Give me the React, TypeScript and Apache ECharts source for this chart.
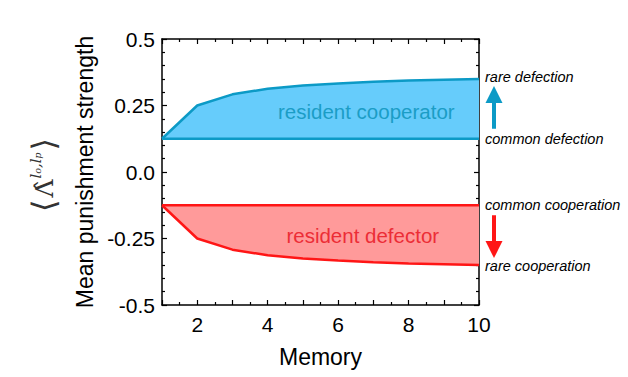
import React, { useEffect, useRef } from "react";
import * as echarts from "echarts";

const memory = [1, 2, 3, 4, 5, 6, 7, 8, 9, 10];
const cooperatorBase = [0.125, 0.125, 0.125, 0.125, 0.125, 0.125, 0.125, 0.125, 0.125, 0.125];
const cooperatorTop = [0.125, 0.25, 0.292, 0.313, 0.325, 0.333, 0.339, 0.344, 0.347, 0.35];
const defectorBase = [-0.125, -0.125, -0.125, -0.125, -0.125, -0.125, -0.125, -0.125, -0.125, -0.125];
const defectorBottom = [-0.125, -0.25, -0.292, -0.313, -0.325, -0.333, -0.339, -0.344, -0.347, -0.35];
const yTicks = [-0.5, -0.25, 0, 0.25, 0.5];
const yTickLabels = ["-0.5", "-0.25", "0.0", "0.25", "0.5"];

const BLUE_LINE = "#0c9ac6";
const BLUE_FILL = "#66ccfb";
const BLUE_TEXT = "#1b9dc6";
const RED_LINE = "#ff1616";
const RED_FILL = "#ff9a9a";
const RED_TEXT = "#ec2d36";
const FONT = "Liberation Sans";

export default function App() {
  const ref = useRef<HTMLDivElement>(null);
  useEffect(() => {
    if (!ref.current) return;
    const chart = echarts.init(ref.current, undefined, { renderer: "svg" });
    const axisCommon = {
      axisLine: { show: true, onZero: false, lineStyle: { color: "#000", width: 1.5 } },
      axisTick: { show: true, inside: true, length: 5, lineStyle: { color: "#000", width: 1.2 } },
      splitLine: { show: false },
    };
    const endLabel = (text: string, offset: number[] = [0, 0]) => ({
      show: true,
      formatter: text,
      distance: 6,
      offset,
      fontStyle: "italic" as const,
      fontFamily: FONT,
      fontSize: 14.5,
      color: "#000",
    });
    chart.setOption({
      animation: false,
      backgroundColor: "#fff",
      grid: { left: 162, right: 149, top: 39, bottom: 72 },
      xAxis: [
        {
          type: "value",
          min: 1,
          max: 10,
          interval: 1,
          ...axisCommon,
          minorTick: { show: true, splitNumber: 2, length: 3, lineStyle: { color: "#000", width: 1.2 } },
          axisLabel: {
            formatter: (v: number) => (v % 2 === 0 ? String(v) : ""),
            fontFamily: FONT,
            fontSize: 21,
            color: "#000",
            margin: 9,
          },
          name: "Memory",
          nameLocation: "middle",
          nameGap: 40,
          nameTextStyle: { fontFamily: FONT, fontSize: 23, color: "#000" },
        },
        {
          type: "value",
          position: "top",
          min: 1,
          max: 10,
          interval: 1,
          ...axisCommon,
          minorTick: { show: true, splitNumber: 2, length: 3, lineStyle: { color: "#000", width: 1.2 } },
          axisLabel: { show: false },
        },
      ],
      yAxis: [
        {
          type: "value",
          min: -0.5,
          max: 0.5,
          interval: 0.25,
          ...axisCommon,
          minorTick: { show: true, splitNumber: 5, length: 3, lineStyle: { color: "#000", width: 1.2 } },
          axisLabel: {
            formatter: (v: number) => {
              const i = yTicks.findIndex((t) => Math.abs(t - v) < 1e-9);
              return i >= 0 ? yTickLabels[i] : "";
            },
            fontFamily: FONT,
            fontSize: 21,
            color: "#000",
            margin: 7,
          },
          name: "Mean punishment strength",
          nameLocation: "middle",
          nameGap: 64,
          nameTextStyle: { fontFamily: FONT, fontSize: 23, color: "#000" },
        },
        {
          type: "value",
          position: "right",
          min: -0.5,
          max: 0.5,
          interval: 0.25,
          ...axisCommon,
          minorTick: { show: true, splitNumber: 5, length: 3, lineStyle: { color: "#000", width: 1.2 } },
          axisLabel: { show: false },
        },
      ],
      series: [
        {
          type: "line",
          name: "coopTop",
          data: memory.map((m, i) => [m, cooperatorTop[i]]),
          symbol: "none",
          z: 3,
          lineStyle: { color: BLUE_LINE, width: 2.5 },
          areaStyle: { color: BLUE_FILL, opacity: 1, origin: cooperatorBase[0] },
          endLabel: endLabel("rare defection", [0, -2]),
        },
        {
          type: "line",
          name: "coopBase",
          data: memory.map((m, i) => [m, cooperatorBase[i]]),
          symbol: "none",
          z: 4,
          lineStyle: { color: BLUE_LINE, width: 2.5 },
          endLabel: endLabel("common defection"),
        },
        {
          type: "line",
          name: "defBottom",
          data: memory.map((m, i) => [m, defectorBottom[i]]),
          symbol: "none",
          z: 3,
          lineStyle: { color: RED_LINE, width: 2.5 },
          areaStyle: { color: RED_FILL, opacity: 1, origin: defectorBase[0] },
          endLabel: endLabel("rare cooperation", [0, 1]),
        },
        {
          type: "line",
          name: "defBase",
          data: memory.map((m, i) => [m, defectorBase[i]]),
          symbol: "none",
          z: 4,
          lineStyle: { color: RED_LINE, width: 2.5 },
          endLabel: endLabel("common cooperation"),
        },
      ],
    });

    const px = (x: number, y: number) => chart.convertToPixel({ gridIndex: 0 }, [x, y]) as number[];
    const last = memory.length - 1;
    const cTop = px(memory[last], cooperatorTop[last]);
    const cBase = px(memory[last], cooperatorBase[last]);
    const dBase = px(memory[last], defectorBase[last]);
    const dBot = px(memory[last], defectorBottom[last]);
    const ax = cTop[0] + 15;
    const coopLabel = px(6.8, 0.226);
    const defLabel = px(6.7, -0.24);
    const midY = px(1, 0)[1];

    chart.setOption({
      graphic: [
        {
          type: "text",
          x: coopLabel[0],
          y: coopLabel[1],
          style: {
            text: "resident cooperator",
            fill: BLUE_TEXT,
            font: `20.5px "${FONT}"`,
            align: "center",
            verticalAlign: "middle",
          },
          z: 10,
        },
        {
          type: "text",
          x: defLabel[0],
          y: defLabel[1],
          style: {
            text: "resident defector",
            fill: RED_TEXT,
            font: `20.5px "${FONT}"`,
            align: "center",
            verticalAlign: "middle",
          },
          z: 10,
        },
        // blue up arrow
        {
          type: "line",
          shape: { x1: ax, y1: cBase[1] - 10, x2: ax, y2: cTop[1] + 22 },
          style: { stroke: BLUE_LINE, lineWidth: 4 },
        },
        {
          type: "polygon",
          shape: {
            points: [
              [ax - 8.5, cTop[1] + 24],
              [ax + 8.5, cTop[1] + 24],
              [ax, cTop[1] + 7],
            ],
          },
          style: { fill: BLUE_LINE },
        },
        // red down arrow
        {
          type: "line",
          shape: { x1: ax, y1: dBase[1] + 10, x2: ax, y2: dBot[1] - 22 },
          style: { stroke: RED_LINE, lineWidth: 4 },
        },
        {
          type: "polygon",
          shape: {
            points: [
              [ax - 8.5, dBot[1] - 24],
              [ax + 8.5, dBot[1] - 24],
              [ax, dBot[1] - 7],
            ],
          },
          style: { fill: RED_LINE },
        },
        // symbol label
        {
          type: "text",
          x: 44,
          y: midY + 3,
          rotation: Math.PI / 2,
          style: {
            text: "{b|⟨}{L|Λ̂}{s|lₒ,lₚ}{b|⟩}",
            align: "center",
            verticalAlign: "middle",
            rich: {
              b: { font: `32px "DejaVu Serif"`, fill: "#333", padding: [0, 2, 0, 2] },
              L: { font: `25px "DejaVu Serif"`, fill: "#333" },
              s: { font: `italic 15px "DejaVu Serif"`, fill: "#333", verticalAlign: "top", padding: [0, 0, 10, 1] },
            },
          },
        },
      ],
    });
    return () => chart.dispose();
  }, []);
  return (
    <div
      ref={ref}
      style={{ position: "fixed", left: 0, top: 0, width: 628, height: 377 }}
    />
  );
}
